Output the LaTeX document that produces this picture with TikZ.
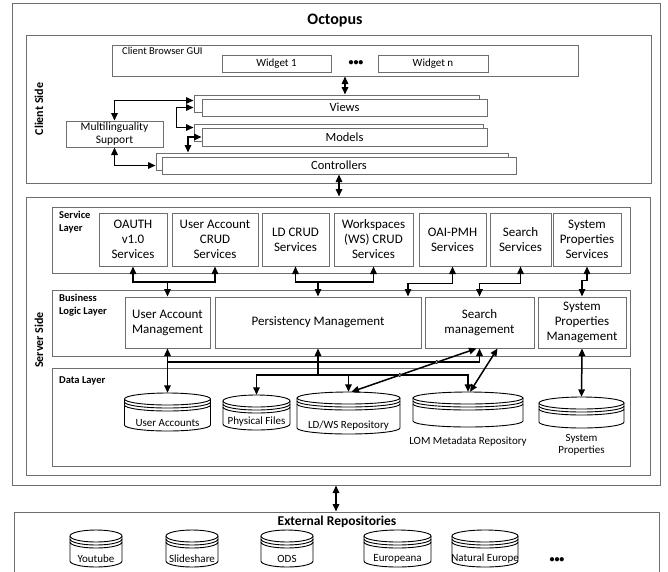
\documentclass[tikz,border=0pt]{standalone}
\usepackage{fontspec}
\setmainfont{Carlito}
\usetikzlibrary{arrows.meta}
\definecolor{framegray}{RGB}{110,110,110}

\newcommand{\svcfont}{\fontsize{13}{15}\selectfont}
\newcommand{\smallfont}{\fontsize{11}{12.5}\selectfont}

\tikzset{
  frame/.style={draw=framegray, line width=1pt, inner sep=0pt},
  unit/.style={draw=framegray, line width=1pt, fill=white, align=center, font=\svcfont, inner sep=1pt},
  layerlbl/.style={font=\bfseries\fontsize{10.5}{13}\selectfont, align=left, anchor=north west, inner sep=0pt},
  sidelbl/.style={rotate=90, font=\bfseries\fontsize{12}{14}\selectfont, inner sep=0pt},
  cyl/.style={draw=black, line width=0.9pt},
  dbtext/.style={font=\smallfont, align=center, inner sep=0pt},
  link/.style={line width=1.5pt, {Triangle[length=7.5pt,width=6.5pt]}-{Triangle[length=7.5pt,width=6.5pt]}},
  tip/.style={line width=1.5pt, -{Triangle[length=7.5pt,width=6.5pt]}},
}

% database drum: name, centre x, top y, width, height, label
\newcommand{\dbcyl}[6]{%
  \begin{scope}[shift={(#2,#3)}]
    \fill[white] (-#4/2,6) -- (-#4/2,#5-6) arc[start angle=180,end angle=0,x radius=#4/2,y radius=6] -- (#4/2,6) -- cycle;
    \draw[cyl] (-#4/2,6) -- (-#4/2,#5-6) arc[start angle=180,end angle=0,x radius=#4/2,y radius=6] -- (#4/2,6);
    \draw[cyl, fill=white] (0,6) ellipse[x radius=#4/2,y radius=6];
    \draw[cyl] (-#4/2,9) arc[start angle=180,end angle=0,x radius=#4/2,y radius=6];
    \draw[cyl] (-#4/2,12) arc[start angle=180,end angle=0,x radius=#4/2,y radius=6];
  \end{scope}
  \node[inner sep=0pt, minimum width=#4, minimum height=#5] (#1) at (#2,#3+#5/2) {};
  \node[dbtext] (#1-text) at (#2,#3+#5-8) {#6};
}

\begin{document}
\begin{tikzpicture}[x=1pt, y=-1pt]
\useasboundingbox (0,0) rectangle (668,571);

% frames
\node[frame, minimum width=648, minimum height=482] (octopus) at (336,244) {};
\node[font=\bfseries\fontsize{16}{18}\selectfont] (title) at (335,21) {Octopus};
\node[frame, minimum width=625, minimum height=148] (client) at (338.5,109) {};
\node[sidelbl] (clientlbl) at (39,109) {Client Side};
\node[frame, minimum width=624, minimum height=278] (server) at (338,336) {};
\node[sidelbl] (serverlbl) at (39,340) {Server Side};

% client side
\node[frame, minimum width=466, minimum height=31] (gui) at (345,60.5) {};
\node[layerlbl, font=\fontsize{10.5}{12}\selectfont] (guilbl) at (122,47) {Client Browser GUI};
\node[unit, font=\smallfont, minimum width=109, minimum height=17] (widget1) at (276.5,63.5) {Widget 1};
\node[font=\bfseries\fontsize{10}{12}\selectfont, inner sep=0pt] (wdots) at (356,63) {•••};
\node[unit, font=\smallfont, minimum width=110, minimum height=17] (widgetn) at (433,63.5) {Widget n};

\node[unit, minimum width=285, minimum height=17] (viewsb) at (336.5,103.5) {};
\node[unit, font=\fontsize{12.5}{14}\selectfont, minimum width=285, minimum height=17] (viewsf) at (344.5,107.5) {Views};
\node[unit, minimum width=289, minimum height=17] (modelsb) at (338.5,132.5) {};
\node[unit, font=\fontsize{12.5}{14}\selectfont, minimum width=285, minimum height=18] (modelsf) at (344.5,137) {Models};
\node[unit, minimum width=352, minimum height=17] (controlb) at (332,161.5) {};
\node[unit, font=\fontsize{12.5}{14}\selectfont, minimum width=354, minimum height=17] (controlf) at (339,165.5) {Controllers};
\node[unit, font=\fontsize{11.5}{13}\selectfont, minimum width=97, minimum height=26] (multi) at (114.5,134) {Multilinguality\\Support};

\draw[link] (gui.south) -- (gui.south |- viewsb.north);
\draw[link] (multi.north) |- ([yshift=3pt]viewsb.west);
\draw[link] ([yshift=-4pt]viewsb.west) -- ++(-17,0) |- ([yshift=5pt]modelsb.west);
\draw[link] (modelsf.west) -| ([xshift=-144pt]controlb.north);
\draw[link] (multi.south) |- ([yshift=-4pt]controlb.west);
\draw[link] (controlf.south) -- (controlf.south |- server.north);

% service layer
\node[frame, minimum width=578, minimum height=66] (svclayer) at (341,240) {};
\node[layerlbl] (svclbl) at (59,211) {Service\\Layer};
\node[unit, minimum width=68, minimum height=53] (oauth) at (133,239.5) {OAUTH\\v1.0\\Services};
\node[unit, minimum width=86, minimum height=53] (uacrud) at (215,239.5) {User Account\\CRUD\\Services};
\node[unit, minimum width=67, minimum height=53] (ldcrud) at (295.5,239.5) {LD CRUD\\Services};
\node[unit, minimum width=79, minimum height=53] (wscrud) at (373.5,239.5) {Workspaces\\(WS) CRUD\\Services};
\node[unit, minimum width=67, minimum height=53] (oaipmh) at (452.5,239.5) {OAI-PMH\\Services};
\node[unit, minimum width=61, minimum height=53] (searchsrv) at (520.5,239.5) {Search\\Services};
\node[unit, minimum width=68, minimum height=53] (syspropsrv) at (587,239.5) {System\\Properties\\Services};

% business logic layer
\node[frame, minimum width=578, minimum height=66] (bizlayer) at (341,323) {};
\node[layerlbl] (bizlbl) at (59,294) {Business\\Logic Layer};
\node[unit, minimum width=85, minimum height=51] (uam) at (167.5,322.5) {User Account\\Management};
\node[unit, minimum width=206, minimum height=51] (persist) at (318,322.5) {Persistency Management};
\node[unit, minimum width=109, minimum height=51] (searchmgmt) at (479.5,322.5) {Search\\management};
\node[unit, minimum width=88, minimum height=51] (syspropmgmt) at (582,322.5) {System\\Properties\\Management};

\coordinate (jua) at (167.5,282);
\coordinate (jld) at (318,282);
\draw[link] (oauth.south) |- (jua) -| (uacrud.south);
\draw[tip] (jua) -- (uam.north);
\draw[link] (ldcrud.south) |- (jld) -| (wscrud.south);
\draw[tip] (jld) -- (persist.north);
\draw[link] (oaipmh.south) -- ++(0,17) -| ([xshift=90pt]persist.north);
\draw[link] (searchsrv.south) -- ++(0,17) -| (searchmgmt.north);
\draw[link] (syspropsrv.south) -- ++(0,14) -| (syspropmgmt.north);

% data layer
\node[frame, minimum width=578, minimum height=98] (datalayer) at (341,417) {};
\node[layerlbl] (datalbl) at (59,376) {Data Layer};
\dbcyl{useracc}{167.5}{393}{86}{38}{User Accounts}
\dbcyl{physfiles}{256.5}{395}{67}{35}{Physical Files}
\dbcyl{ldws}{348.5}{392}{103}{42}{LD/WS Repository}
\dbcyl{lom}{468}{392}{110}{35}{}
\dbcyl{syspropdb}{581.5}{397}{85}{31}{}
\node[dbtext] (lomlbl) at (468,442) {LOM Metadata Repository};
\node[dbtext] (sysproplbl) at (581.5,445) {System\\Properties};

\coordinate (jbus) at (167.5,362);
\coordinate (jpf) at (318,375);
\draw[link] (uam.south) -- (useracc.north);
\draw[tip] (jbus) -| (searchmgmt.south);
\draw[tip] (jpf) -- (persist.south);
\draw[tip] (jpf) -| (physfiles.north);
\draw[tip] (jpf) -| (ldws.north);
\draw[tip] (jpf) -| (lom.north);
\draw[link] ([xshift=-3pt]searchmgmt.south) -- ([xshift=3pt]ldws.north);
\draw[link] ([xshift=18pt]searchmgmt.south) -- ([xshift=2pt]lom.north);
\draw[link] (syspropmgmt.south) -- (syspropdb.north);
\draw[line width=0.8pt, fill=white] (436.7,362) circle[radius=1.6];
\draw[line width=0.8pt, fill=white] (399.8,375) circle[radius=1.6];

% external repositories
\node[frame, minimum width=645, minimum height=62] (extrepo) at (336.5,543) {};
\node[font=\bfseries\fontsize{13.5}{15}\selectfont] (extlbl) at (337,522) {External Repositories};
\draw[link] (octopus.south) -- (octopus.south |- extrepo.north);
\dbcyl{youtube}{96}{530}{52}{37}{Youtube}
\dbcyl{slideshare}{192}{530}{52}{37}{Slideshare}
\dbcyl{ods}{287}{530}{52}{37}{ODS}
\dbcyl{europeana}{397.5}{530}{67}{37}{Europeana}
\dbcyl{nateurope}{485}{530}{66}{37}{Natural Europe}
\node[font=\bfseries\fontsize{10}{12}\selectfont, inner sep=0pt] (extdots) at (557,560) {•••};
\end{tikzpicture}
\end{document}
